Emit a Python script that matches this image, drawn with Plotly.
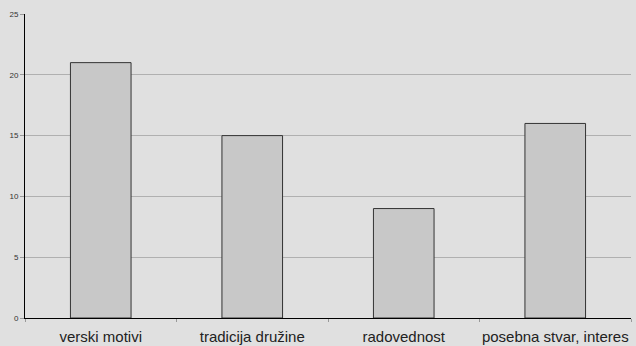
import plotly.graph_objects as go

# Motivation categories and their counts
categories = ["verski motivi", "tradicija družine", "radovednost", "posebna stvar, interes"]
counts = [21, 15, 9, 16]
y_ticks = [0, 5, 10, 15, 20, 25]

fig = go.Figure(
    go.Bar(
        x=categories,
        y=counts,
        width=0.4,
        marker=dict(color="#c8c8c8", line=dict(color="#333333", width=1)),
        hoverinfo="x+y",
    )
)

fig.update_layout(
    width=636,
    height=346,
    margin=dict(l=25, r=5, t=14, b=28),
    paper_bgcolor="#e0e0e0",
    plot_bgcolor="#e0e0e0",
    showlegend=False,
    font=dict(family="Liberation Sans, Arial, sans-serif", color="#222222"),
)

fig.update_xaxes(
    type="category",
    tickson="boundaries",
    ticks="outside",
    ticklen=3,
    tickcolor="#999999",
    tickangle=0,
    ticklabelstandoff=5,
    automargin=False,
    showgrid=False,
    showline=True,
    linecolor="#000000",
    linewidth=1,
    tickfont=dict(size=15, color="#222222"),
    range=[-0.5, 3.5],
)

fig.update_yaxes(
    range=[0, 25],
    tickvals=y_ticks,
    ticks="outside",
    ticklen=4,
    tickcolor="#999999",
    automargin=False,
    showgrid=True,
    gridcolor="#b0b0b0",
    gridwidth=1,
    zeroline=False,
    showline=True,
    linecolor="#000000",
    linewidth=1,
    tickfont=dict(size=8, color="#333333"),
)

fig.write_html("out.html")
